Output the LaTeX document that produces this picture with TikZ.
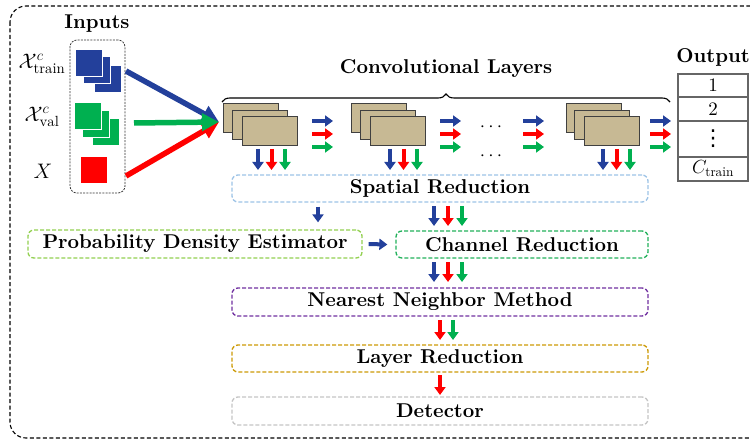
\documentclass[tikz,border=0pt]{standalone}
\usepackage{fix-cm}
\usepackage{fontspec}
\setmainfont{lmroman10-regular.otf}[BoldFont=lmroman10-bold.otf, ItalicFont=lmroman10-italic.otf]
\newfontfamily\symfont{DejaVu Sans}
\usetikzlibrary{arrows.meta,decorations.pathreplacing}
\definecolor{cB}{HTML}{23409B}
\definecolor{cR}{HTML}{FF0000}
\definecolor{cG}{HTML}{00B050}
\definecolor{tan}{HTML}{C7B994}
\definecolor{cSR}{HTML}{9DC3E6}
\definecolor{cPD}{HTML}{92D050}
\definecolor{cCR}{HTML}{22B05A}
\definecolor{cNN}{HTML}{7030A0}
\definecolor{cLR}{HTML}{CC9A06}
\definecolor{cDet}{HTML}{C4C4C4}
\tikzset{
  big/.style={font=\fontsize{20}{24}\selectfont\bfseries},
  norm/.style={font=\fontsize{19}{23}\selectfont},
  mlab/.style={font=\fontsize{21}{25}\selectfont},
  stepbox/.style={draw, rounded corners=6pt, line width=1.3pt, dash pattern=on 4pt off 2pt,
     inner sep=0pt, minimum height=27pt, big},
  sq/.style={draw=white, line width=0.8pt, minimum size=27pt, inner sep=0pt},
  conv/.style={draw=black!75, fill=tan, line width=1pt, minimum width=55pt, minimum height=29pt, inner sep=0pt},
  sarr/.style={line width=4pt, -{Triangle[length=8pt,width=11pt]}, shorten >=-1pt},
  barr/.style={line width=5.5pt, -{Triangle[length=17pt,width=17pt]}},
  cell/.style={draw=black!60, line width=1.3pt, minimum width=70pt, inner sep=0pt, norm},
}
\begin{document}
\begin{tikzpicture}[x=1pt,y=-1pt]
\useasboundingbox (0,0) rectangle (750,441);
% outer frame
\draw[line width=1.1pt, dash pattern=on 4pt off 2.5pt, rounded corners=16pt] (10,6) rectangle (766,438);
% inputs
\node[big] (inlbl) at (97,24) {Inputs};
\node[draw=black!80, line width=0.8pt, dash pattern=on 2pt off 1.2pt, rounded corners=7pt,
      minimum width=55pt, minimum height=153pt, inner sep=0pt] (inbox) at (97.5,116.5) {};
\node[sq, fill=cB] (b3) at (108,79) {};
\node[sq, fill=cB] (b2) at (97,70) {};
\node[sq, fill=cB] (b1) at (88.5,62.5) {};
\node[sq, fill=cG] (g3) at (105.5,132) {};
\node[sq, fill=cG] (g2) at (95.5,123.5) {};
\node[sq, fill=cG] (g1) at (87.5,115.5) {};
\node[sq, fill=cR] (r1) at (94,169.5) {};
\node[mlab] (xtr) at (42,64) {$\mathcal{X}^{c}_{\mathrm{train}}$};
\node[mlab] (xva) at (42,117) {$\mathcal{X}^{c}_{\mathrm{val}}$};
\node[mlab] (xx) at (43,171) {$X$};
% conv stacks
\node[conv] (s1a) at (250.5,118.5) {};
\node[conv] (s1b) at (260,125) {};
\node[conv] (s1c) at (269.5,131.5) {};
\node[conv] (s2a) at (379,118.5) {};
\node[conv] (s2b) at (388,125) {};
\node[conv] (s2c) at (397.5,131.5) {};
\node[conv] (s3a) at (593.5,118.5) {};
\node[conv] (s3b) at (602,125) {};
\node[conv] (s3c) at (612,131.5) {};
\coordinate (cin) at (219,122);
\coordinate (bout) at (126,71);
\coordinate (gout) at (134,123);
\coordinate (rout) at (126,176);
\draw[barr, cB] (bout) -- (cin);
\draw[barr, cR] (rout) -- (cin);
\draw[barr, cG] (gout) -- (cin);
% brace
\coordinate (brL) at (222,102);
\coordinate (brR) at (670,102);
\draw[line width=1.1pt, decorate, decoration={brace, amplitude=8pt}] (brL) -- (brR);
\node[big] (convlbl) at (446,69) {Convolutional Layers};
% dots
\node[norm, inner sep=0pt] (d1) at (491,127) {$\cdots$};
\node[norm, inner sep=0pt] (d2) at (491,156) {$\cdots$};
% right triplets
\foreach \x in {312,440,523,650}{
  \draw[sarr, cB] (\x,121) -- ++(20,0);
  \draw[sarr, cR] (\x,134) -- ++(20,0);
  \draw[sarr, cG] (\x,147) -- ++(20,0);
}
% boxes
\node[stepbox, draw=cSR, minimum width=416pt] (sr) at (440,188.5) {Spatial Reduction};
\node[stepbox, draw=cPD, minimum width=334pt, minimum height=28pt] (pd) at (195,244) {Probability Density Estimator};
\node[stepbox, draw=cCR, minimum width=252pt] (cr) at (522,244.5) {Channel Reduction};
\node[stepbox, draw=cNN, minimum width=416pt, minimum height=28pt] (nn) at (440,302) {Nearest Neighbor Method};
\node[stepbox, draw=cLR, minimum width=416pt] (lr) at (440,358.5) {Layer Reduction};
\node[stepbox, draw=cDet, minimum width=416pt, minimum height=28pt] (det) at (440,411) {Detector};
% down triplets under stacks
\foreach \x in {258,390,603}{
  \draw[sarr, cB] (\x,149) -- ++(0,20);
  \draw[sarr, cR] (\x+13.5,149) -- ++(0,20);
  \draw[sarr, cG] (\x+27,149) -- ++(0,20);
}
% between boxes
\draw[sarr, cB] ([yshift=-4pt]sr.south -| 318,0) -- ([yshift=8pt]pd.north -| 318,0);
\draw[sarr, cB] (434,206) -- (434,225);
\draw[sarr, cR] (448,206) -- (448,225);
\draw[sarr, cG] (462,206) -- (462,225);
\draw[sarr, cB] ([xshift=6pt]pd.east) -- ([xshift=-9pt]cr.west);
\draw[sarr, cB] (434,262) -- (434,281);
\draw[sarr, cR] (448,262) -- (448,281);
\draw[sarr, cG] (462,262) -- (462,281);
\draw[sarr, cR] (440,320) -- (440,339);
\draw[sarr, cG] (453,320) -- (453,339);
\draw[sarr, cR] (440,375) -- (440,394);
% output
\node[big] (outlbl) at (713,57) {Output};
\node[cell, minimum height=23pt] (o1) at (713,85.5) {1};
\node[cell, minimum height=24pt] (o2) at (713,109) {2};
\node[cell, minimum height=36pt, font=\fontsize{22}{26}\selectfont\symfont] (o3) at (713,139) {⋮};
\node[cell, minimum height=24pt] (o4) at (713,169) {$C_{\mathrm{train}}$};
\end{tikzpicture}
\end{document}
